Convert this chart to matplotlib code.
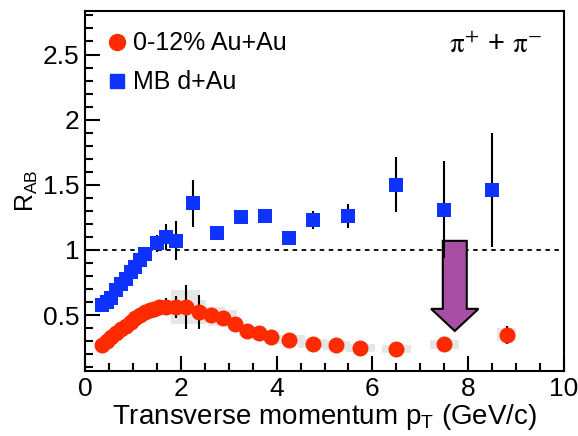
import matplotlib
matplotlib.use("Agg")
import matplotlib.pyplot as plt
from matplotlib.patches import Rectangle, FancyArrow
from matplotlib.lines import Line2D
from matplotlib.ticker import MultipleLocator

plt.rcParams['font.family'] = ['Liberation Sans', 'DejaVu Sans']
plt.rcParams['mathtext.fontset'] = 'custom'
plt.rcParams['mathtext.rm'] = 'Liberation Sans'
plt.rcParams['mathtext.it'] = 'Liberation Sans:italic'

# ---------------- data ----------------
# MB d+Au (blue squares)
x_dau = [0.35, 0.45, 0.55, 0.65, 0.75, 0.85, 0.95, 1.05, 1.15, 1.25, 1.5, 1.7, 1.9,
         2.25, 2.75, 3.25, 3.75, 4.25, 4.75, 5.5, 6.5, 7.5, 8.5]
y_dau = [0.58, 0.60, 0.63, 0.69, 0.74, 0.78, 0.83, 0.87, 0.92, 0.97, 1.05, 1.10, 1.07,
         1.36, 1.13, 1.25, 1.26, 1.09, 1.23, 1.26, 1.50, 1.31, 1.46]
e_dau = [0.01, 0.01, 0.01, 0.01, 0.01, 0.01, 0.01, 0.01, 0.01, 0.01, 0.065, 0.10, 0.15,
         0.18, 0.02, 0.02, 0.02, 0.02, 0.07, 0.09, 0.21, 0.37, 0.44]

# 0-12% Au+Au (red circles)
x_auau = [0.35, 0.45, 0.55, 0.65, 0.75, 0.85, 0.95, 1.05, 1.15, 1.25, 1.35, 1.45, 1.55,
          1.7, 1.9, 2.1, 2.375, 2.625, 2.875, 3.125, 3.375, 3.625, 3.875,
          4.25, 4.75, 5.25, 5.75, 6.5, 7.5, 8.8]
y_auau = [0.27, 0.30, 0.33, 0.36, 0.39, 0.42, 0.45, 0.48, 0.50, 0.52, 0.54, 0.55, 0.56,
          0.565, 0.56, 0.56, 0.525, 0.50, 0.48, 0.43, 0.38, 0.36, 0.33,
          0.31, 0.28, 0.27, 0.25, 0.24, 0.275, 0.35]
e_auau = [0.01, 0.01, 0.01, 0.01, 0.01, 0.01, 0.01, 0.01, 0.01, 0.01, 0.01, 0.01, 0.01,
          0.065, 0.085, 0.17, 0.13, 0.01, 0.01, 0.01, 0.01, 0.01, 0.01,
          0.01, 0.01, 0.01, 0.01, 0.01, 0.057, 0.07]
# systematic boxes (half-height), Au+Au
sys_auau = [0.0, 0.0, 0.0, 0.0, 0.0, 0.0, 0.0, 0.0, 0.0, 0.0, 0.0, 0.0, 0.0,
            0.05, 0.07, 0.13, 0.09, 0.06, 0.06, 0.04, 0.04, 0.04, 0.03,
            0.035, 0.035, 0.035, 0.03, 0.03, 0.032, 0.05]
box_hw_auau = [0.1, 0.1, 0.1, 0.1, 0.1, 0.1, 0.1, 0.1, 0.1, 0.1, 0.1, 0.1, 0.1,
               0.1, 0.1, 0.3, 0.15, 0.3, 0.3, 0.15, 0.15, 0.15, 0.15,
               0.35, 0.3, 0.28, 0.3, 0.31, 0.3, 0.19]

labels = ["0-12% Au+Au", "MB d+Au"]
xlabel = r"Transverse momentum p$_{\mathrm{T}}$ (GeV/c)"
ylabel = r"R$_{\mathrm{AB}}$"

# arrow annotation (x position, top, tip)
arrow_x, arrow_top, arrow_tip = 7.72, 1.07, 0.378

red = '#ff2a00'
blue = '#0f33ff'

fig = plt.figure(figsize=(5.78, 4.36), dpi=100)
ax = fig.add_axes([85/578, 65/436, (564-85)/578, (371-11)/436])
ax.set_xlim(0, 10)
ax.set_ylim(0.071, 2.834)

# systematic boxes
for x, y, s, hw in zip(x_auau, y_auau, sys_auau, box_hw_auau):
    if s > 0:
        ax.add_patch(Rectangle((x - hw, y - s), 2 * hw, 2 * s,
                               facecolor='#e6e6e6', edgecolor='none', zorder=1))

ax.axhline(1.0, color='black', linestyle=(0, (2.5, 2.5)), linewidth=1.3, zorder=2)

arrow = FancyArrow(arrow_x, arrow_top, 0, arrow_tip - arrow_top, width=0.5,
                   head_width=0.99, head_length=0.17, length_includes_head=True,
                   facecolor='#a84fa5', edgecolor='black', linewidth=1.5, zorder=2.5)
ax.add_patch(arrow)

ax.errorbar(x_auau, y_auau, yerr=e_auau, fmt='o', color=red, markersize=11.5,
            markeredgewidth=0, ecolor='black', elinewidth=1.5, capsize=2.5,
            capthick=1.5, zorder=4)
ax.errorbar(x_dau, y_dau, yerr=e_dau, fmt='s', color=blue, markersize=10,
            markeredgewidth=0, ecolor='black', elinewidth=1.5, capsize=2.5,
            capthick=1.5, zorder=4)

# axes style
for side in ['left', 'bottom', 'right', 'top']:
    ax.spines[side].set_linewidth(1.5)
ax.xaxis.set_major_locator(MultipleLocator(2))
ax.xaxis.set_minor_locator(MultipleLocator(0.5))
ax.yaxis.set_major_locator(MultipleLocator(0.5))
ax.yaxis.set_minor_locator(MultipleLocator(0.1))
ax.tick_params(axis='both', which='major', direction='in', length=11, width=1.5,
               labelsize=19, top=False, right=False)
ax.tick_params(axis='both', which='minor', direction='in', length=5.5, width=1.5,
               top=False, right=False)
ax.tick_params(axis='x', pad=4)
ax.tick_params(axis='y', pad=4)
ax.set_yticks([0.5, 1, 1.5, 2, 2.5])
ax.set_yticklabels(['0.5', '1', '1.5', '2', '2.5'])
ax.set_xticks([0, 2, 4, 6, 8, 10])
ax.set_xticklabels(['0', '2', '4', '6', '8', '10'])

ax.set_xlabel(xlabel, fontsize=20, labelpad=1)
ax.set_ylabel(ylabel, fontsize=18, labelpad=2)

handles = [Line2D([], [], marker='o', linestyle='none', color=red, markersize=11.5),
           Line2D([], [], marker='s', linestyle='none', color=blue, markersize=10)]
ax.legend(handles, labels, loc='upper left', bbox_to_anchor=(0.02, 0.985),
          frameon=False, fontsize=18, handlelength=0.6, handletextpad=0.35,
          labelspacing=0.6, borderaxespad=0.2)

ax.text(0.955, 0.905, r"$\mathrm{\pi}^{+}$ + $\mathrm{\pi}^{-}$", transform=ax.transAxes,
        ha='right', va='center', fontsize=21, math_fontfamily='stix')

fig.savefig('out.png', dpi=100)
